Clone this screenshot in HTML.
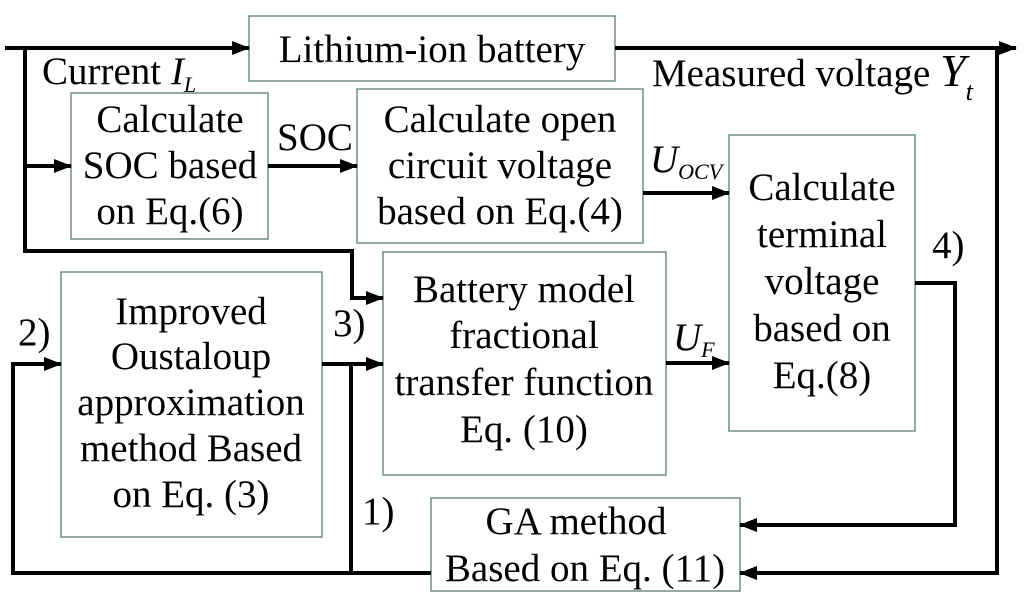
<!DOCTYPE html>
<html><head><meta charset="utf-8"><style>
html,body{margin:0;padding:0;background:#fff;}
svg{display:block;}
text{font-family:"Liberation Serif",serif;font-size:39px;fill:#000;}
.c{text-anchor:middle;}
.b{fill:none;stroke:#6f8f7f;stroke-width:1.5;}
.l{fill:none;stroke:#000;stroke-width:4;}
</style></head><body>
<svg width="1024" height="600" viewBox="0 0 1024 600">
<defs>
<marker id="A" markerWidth="18" markerHeight="14" refX="17" refY="7" orient="auto" markerUnits="userSpaceOnUse" viewBox="0 0 18 14"><path d="M0,0 L18,7 L0,14 z" fill="#000"/></marker></defs>
<rect class="b" x="249" y="16" width="366" height="65"/>
<rect class="b" x="71" y="93" width="197" height="146"/>
<rect class="b" x="357" y="89" width="286" height="154"/>
<rect class="b" x="729" y="135" width="186" height="296"/>
<rect class="b" x="383" y="252" width="283" height="223"/>
<rect class="b" x="61" y="272" width="261" height="265"/>
<rect class="b" x="431" y="498" width="309" height="93"/>
<path class="l" d="M5,48 H249" marker-end="url(#A)"/>
<path class="l" d="M615,48 H1016" marker-end="url(#A)"/>
<path class="l" d="M25,48 V251 H352 V298 H383" marker-end="url(#A)"/>
<path class="l" d="M25,166 H71" marker-end="url(#A)"/>
<path class="l" d="M268,166 H357" marker-end="url(#A)"/>
<path class="l" d="M643,193 H729" marker-end="url(#A)"/>
<path class="l" d="M666,363 H729" marker-end="url(#A)"/>
<path class="l" d="M322,364 H383" marker-end="url(#A)"/>
<path class="l" d="M351,364 V573"/>
<path class="l" d="M431,573 H13 V364 H61" marker-end="url(#A)"/>
<path class="l" d="M915,283 H955 V525 H740" marker-end="url(#A)"/>
<path class="l" d="M997,48 V573 H740" marker-end="url(#A)"/>
<text class="c" x="432" y="62">Lithium-ion battery</text>
<text x="42" y="84">Current <tspan font-style="italic">I</tspan><tspan font-style="italic" font-size="22" dy="8">L</tspan></text>
<text x="652" y="86">Measured voltage <tspan font-style="italic" font-size="46">Y</tspan><tspan font-style="italic" font-size="26" dy="14">t</tspan></text>
<text class="c" x="170" y="132">Calculate</text>
<text class="c" x="170" y="178">SOC based</text>
<text class="c" x="170" y="224">on Eq.(6)</text>
<text x="277" y="150">SOC</text>
<text class="c" x="500" y="132">Calculate open</text>
<text class="c" x="500" y="178">circuit voltage</text>
<text class="c" x="500" y="224">based on Eq.(4)</text>
<text x="650" y="172" font-style="italic">U<tspan font-size="22" dy="7">OCV</tspan></text>
<text class="c" x="822" y="200">Calculate</text>
<text class="c" x="822" y="247">terminal</text>
<text class="c" x="822" y="294">voltage</text>
<text class="c" x="822" y="341">based on</text>
<text class="c" x="822" y="388">Eq.(8)</text>
<text x="932" y="258">4)</text>
<text class="c" x="524" y="302">Battery model</text>
<text class="c" x="524" y="348">fractional</text>
<text class="c" x="524" y="395">transfer function</text>
<text class="c" x="524" y="442">Eq. (10)</text>
<text x="673" y="350" font-style="italic">U<tspan font-size="22" dy="7">F</tspan></text>
<text class="c" x="191" y="324">Improved</text>
<text class="c" x="191" y="369">Oustaloup</text>
<text class="c" x="191" y="415">approximation</text>
<text class="c" x="191" y="461">method Based</text>
<text class="c" x="191" y="507">on Eq. (3)</text>
<text x="18" y="345">2)</text>
<text x="333" y="336">3)</text>
<text x="362" y="524">1)</text>
<text class="c" x="576" y="534">GA method</text>
<text class="c" x="585" y="581">Based on Eq. (11)</text>
</svg>
</body></html>
